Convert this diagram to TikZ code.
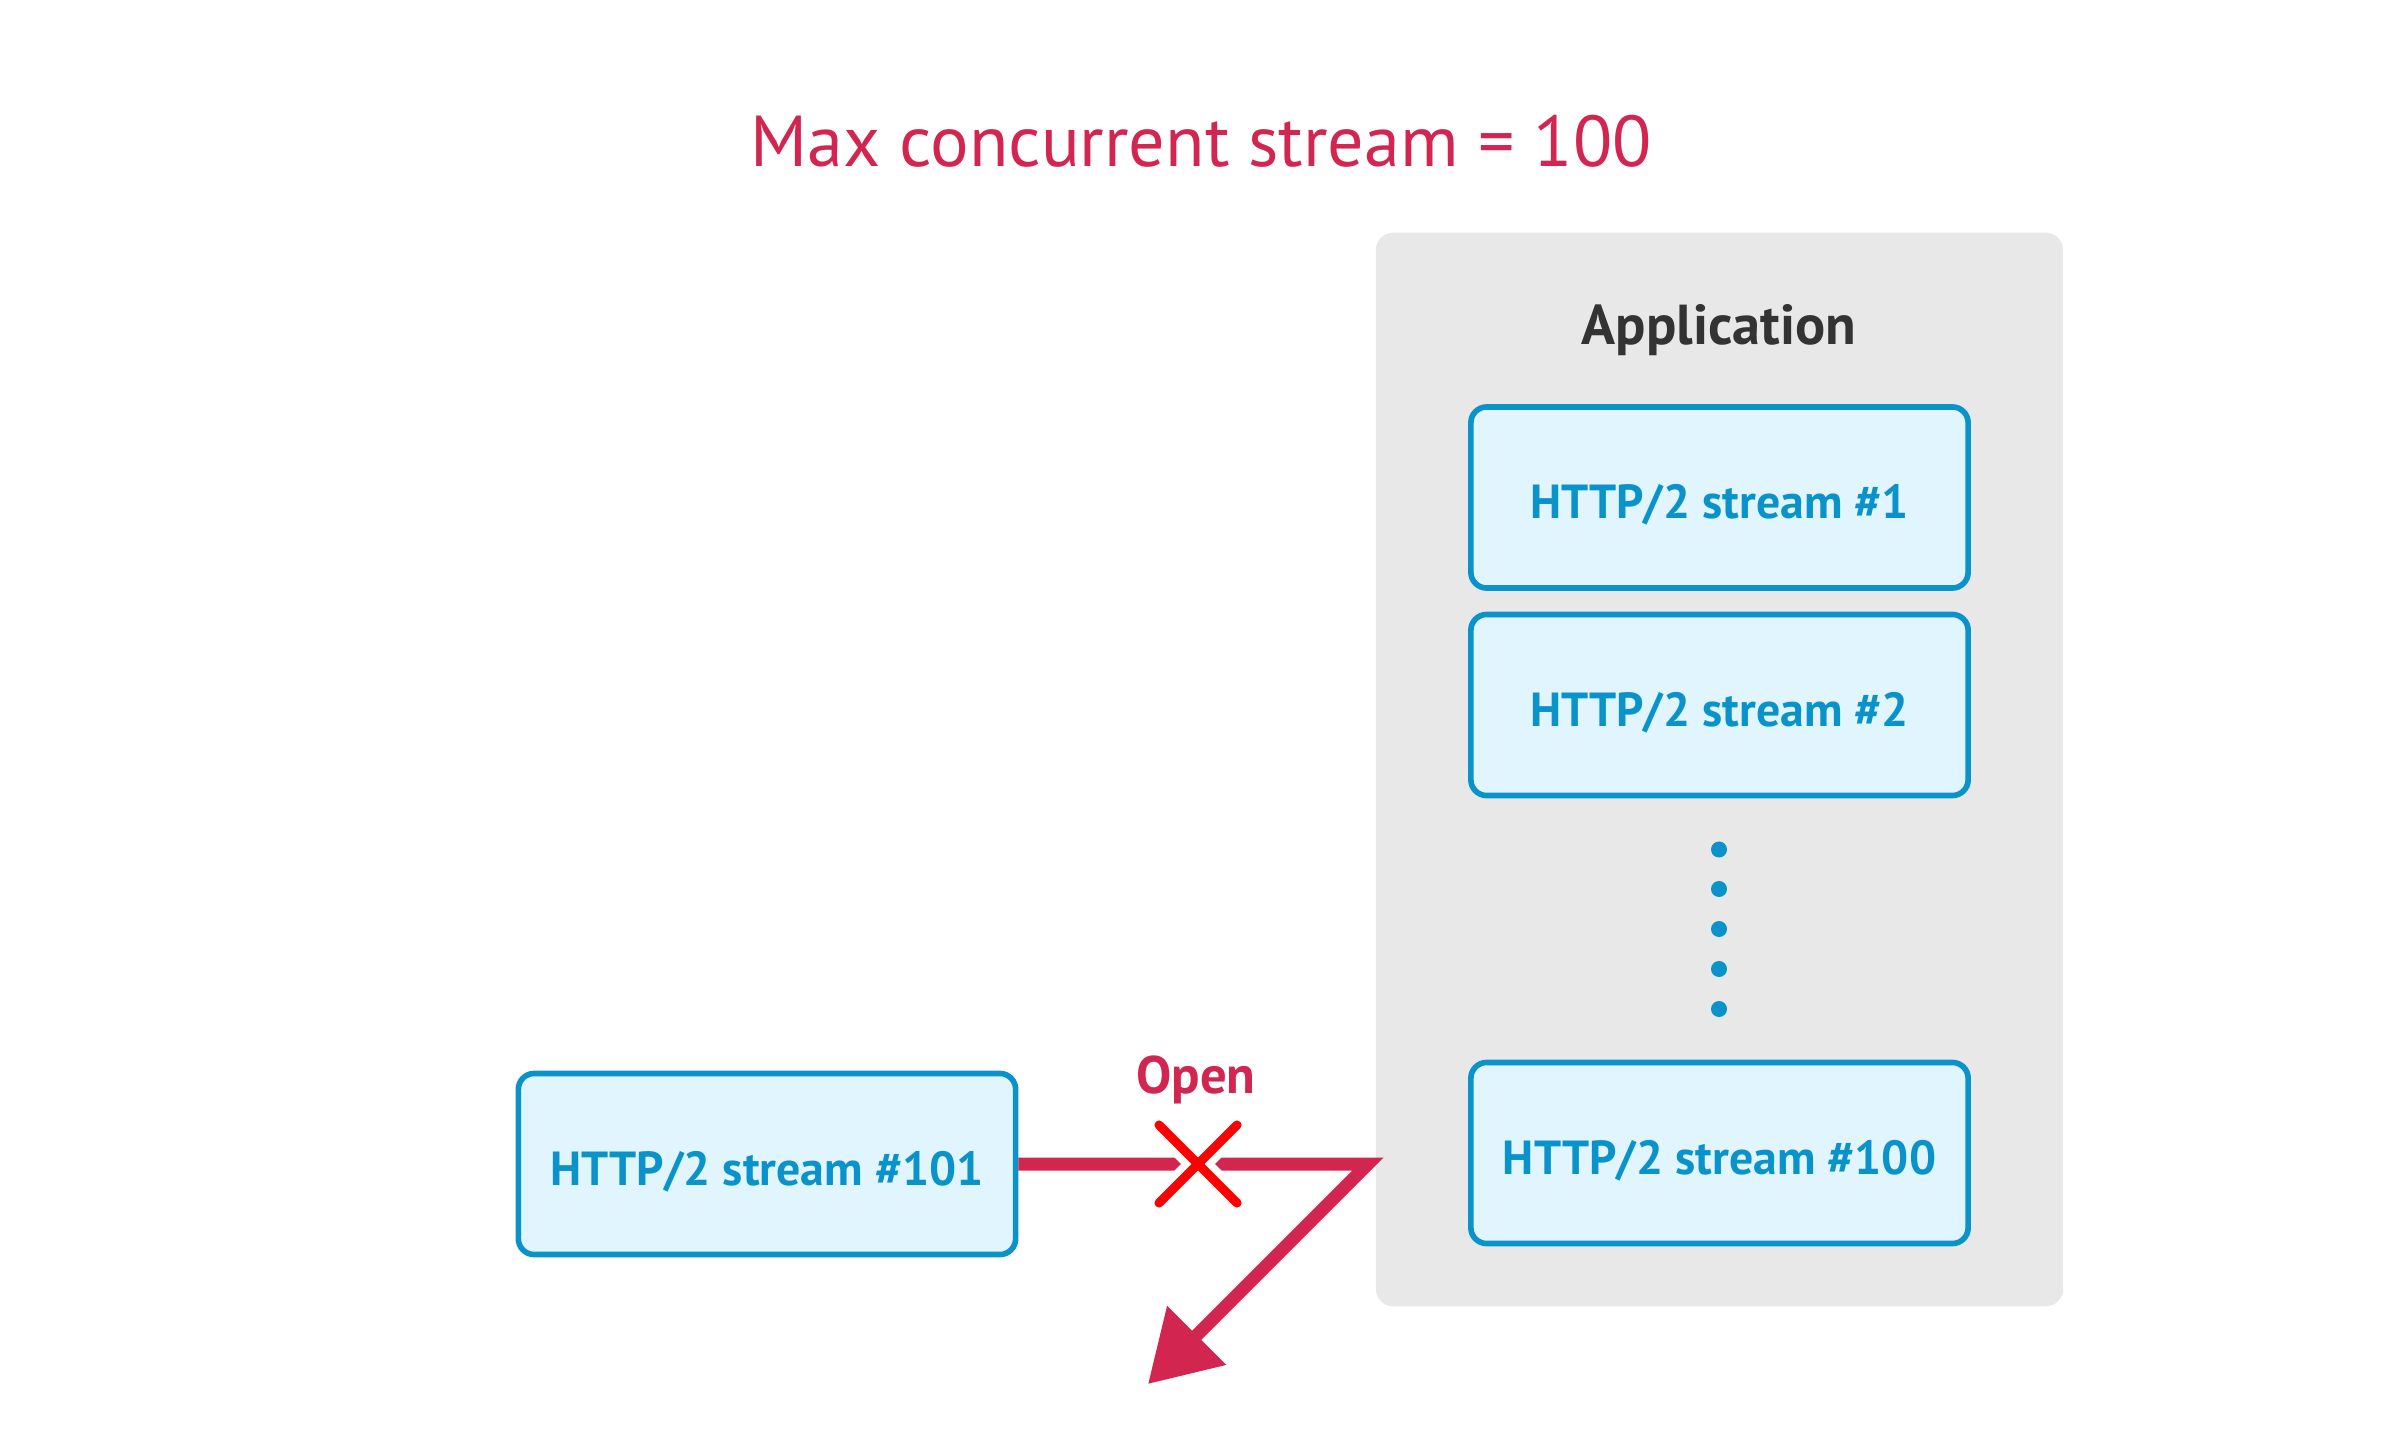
\documentclass[tikz,border=0pt]{standalone}
\usepackage{fontspec}
\setmainfont{PT Sans}
\usetikzlibrary{arrows.meta,calc}
\definecolor{crim}{HTML}{D22650}
\definecolor{sblue}{HTML}{0A93CB}
\definecolor{sfill}{HTML}{E0F5FE}
\definecolor{appgray}{HTML}{E8E8E8}
\definecolor{dark}{HTML}{333333}
\definecolor{xred}{HTML}{FF0000}
\tikzset{
  streambox/.style={draw=sblue, fill=sfill, line width=1.6pt, rounded corners=4.5pt,
    minimum width=4.97cm, minimum height=1.81cm, inner sep=0pt,
    text height=12pt, text depth=0pt,
    text=sblue, font=\bfseries\fontsize{13.6}{16}\selectfont},
  dotmark/.style={circle, fill=sblue, inner sep=0pt, minimum size=0.16cm},
  redline/.style={draw=crim, line width=3.7pt, line join=miter},
  xmark/.style={draw=xred, line width=2.6pt, line cap=round},
  xgap/.style={draw=white, line width=6.8pt},
}
\begin{document}
\begin{tikzpicture}[x=0.01cm, y=-0.01cm]
\useasboundingbox (0,0) rectangle (2400,1440);
\fill[white] (0,0) rectangle (2400,1440);
% title
\node[text=crim, font=\fontsize{20.5}{24}\selectfont, anchor=center] (title) at (1201,141) {Max concurrent stream = 100};
% application panel
\node[fill=appgray, rounded corners=5pt, minimum width=6.87cm, minimum height=10.73cm, inner sep=0pt] (app) at (1719.5,769.5) {};
\node[text=dark, font=\bfseries\fontsize{16}{19}\selectfont] (apptitle) at (1719,330) {Application};
\node[streambox] (s1) at (1719.5,497.5) {HTTP/2 stream \#1};
\node[streambox] (s2) at (1719.5,705) {HTTP/2 stream \#2};
\node[dotmark] (d1) at (1719,849.5) {};
\node[dotmark] (d2) at (1719,889) {};
\node[dotmark] (d3) at (1719,929) {};
\node[dotmark] (d4) at (1719,969) {};
\node[dotmark] (d5) at (1719,1009) {};
\node[streambox] (s100) at (1719.5,1153) {HTTP/2 stream \#100};
\node[streambox] (s101) at (767,1164) {HTTP/2 stream \#101};
% rejected open
\coordinate (corner) at (1368,1164);
\coordinate (tip) at (1148,1384);
\coordinate (xc) at (1198,1164);
\draw[redline, -{Triangle[length=19.6pt,width=22.8pt]}] (s101.east) -- (corner) -- (tip);
\draw[xgap] ($(xc)+(-39,-39)$) -- ($(xc)+(39,39)$);
\draw[xgap] ($(xc)+(-39,39)$) -- ($(xc)+(39,-39)$);
\draw[xmark] ($(xc)+(-39,-39)$) -- ($(xc)+(39,39)$);
\draw[xmark] ($(xc)+(-39,39)$) -- ($(xc)+(39,-39)$);
\node[text=crim, font=\bfseries\fontsize{15}{18}\selectfont, anchor=base] (open) at (1196,1093) {Open};
\end{tikzpicture}
\end{document}
